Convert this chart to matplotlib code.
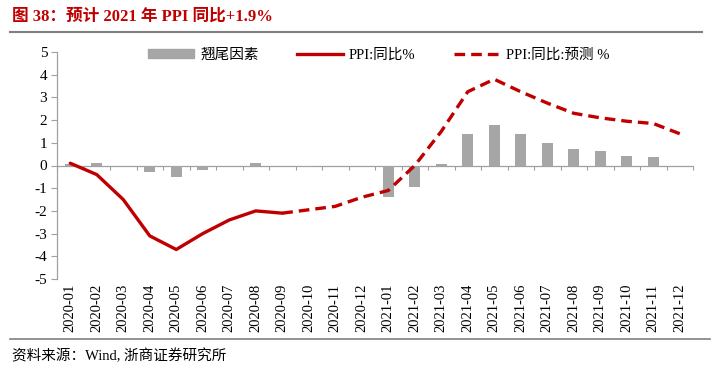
import matplotlib
matplotlib.use("Agg")
import matplotlib.pyplot as plt
import numpy as np
from matplotlib.lines import Line2D

plt.rcParams['font.family'] = ['Liberation Serif', 'Noto Sans CJK SC', 'DejaVu Sans']

months = ["2020-01", "2020-02", "2020-03", "2020-04", "2020-05", "2020-06",
          "2020-07", "2020-08", "2020-09", "2020-10", "2020-11", "2020-12",
          "2021-01", "2021-02", "2021-03", "2021-04", "2021-05", "2021-06",
          "2021-07", "2021-08", "2021-09", "2021-10", "2021-11", "2021-12"]
carryover = [0.05, 0.1, 0.0, -0.3, -0.5, -0.2, 0.0, 0.1, 0.0, -0.05, 0.0, 0.0,
             -1.4, -0.93, 0.05, 1.37, 1.79, 1.37, 0.98, 0.71, 0.64, 0.43, 0.38, 0.0]
ppi_actual = [0.1, -0.4, -1.5, -3.1, -3.7, -3.0, -2.4, -2.0, -2.1]
ppi_forecast = [-2.1, -1.95, -1.8, -1.4, -1.1, 0.0, 1.5, 3.25, 3.8, 3.25, 2.75,
                2.3, 2.1, 1.95, 1.85, 1.4]

red = '#C00000'
grey_bar = '#A6A6A6'
axis_grey = '#A0A0A0'

fig = plt.figure(figsize=(7.24, 3.9), dpi=100)
ax = fig.add_axes([57/724, 1-279/390, (693-57)/724, (279-52)/390])

x = np.arange(len(months))
ax.bar(x, carryover, width=0.4, color=grey_bar, zorder=2, label='翘尾因素')
xa = np.arange(len(ppi_actual))
ax.plot(xa, ppi_actual, color=red, lw=2.4, solid_capstyle='round', zorder=3, label='PPI:同比%')
xf = np.arange(len(ppi_actual) - 1, len(ppi_actual) - 1 + len(ppi_forecast))
ax.plot(xf, ppi_forecast, color=red, lw=2.4, dashes=(3.2, 1.8), zorder=3, label='PPI:同比:预测 %')

ax.set_xlim(-0.5, len(months) - 0.5)
ax.set_ylim(-5, 5)
ax.set_yticks(range(-5, 6))
ax.set_yticklabels([str(v) for v in range(-5, 6)], fontsize=11)
ax.tick_params(axis='y', length=4, color=axis_grey, width=0.8, pad=3)

for s in ['top', 'right']:
    ax.spines[s].set_visible(False)
ax.spines['left'].set_color(axis_grey)
ax.spines['left'].set_linewidth(0.9)
ax.spines['bottom'].set_position(('data', 0))
ax.spines['bottom'].set_color(axis_grey)
ax.spines['bottom'].set_linewidth(0.9)
ax.spines['bottom'].set_zorder(1)
ax.set_xticks(np.arange(-0.5, len(months), 1.0))
ax.set_xticklabels([])
ax.tick_params(axis='x', length=3, direction='out', color=axis_grey, width=0.8)

for i, m in enumerate(months):
    ax.text(i, -0.02, m, transform=ax.get_xaxis_transform(), rotation=90,
            ha='center', va='top', fontsize=10.5)

handles = [
    plt.Rectangle((0, 0), 1, 1, color=grey_bar),
    Line2D([], [], color=red, lw=2.4),
    Line2D([], [], color=red, lw=2.4, dashes=(3.2, 1.8)),
]
labels = ['翘尾因素', 'PPI:同比%', 'PPI:同比:预测 %']
fig.legend(handles, labels, loc='center', bbox_to_anchor=(0.523, 1-55/390), ncol=3,
           frameon=False, fontsize=10.5, handlelength=3.2, handleheight=0.6,
           columnspacing=2.6, handletextpad=0.4)

fig.text(12/724, 1-17/390, '图 38：预计 2021 年 PPI 同比+1.9%', color=red,
         fontsize=12, fontweight='bold', va='center', ha='left')
fig.add_artist(Line2D([10/724, 702/724], [1-32/390, 1-32/390], color='#808080', lw=1.5))
fig.add_artist(Line2D([10/724, 710/724], [1-339/390, 1-339/390], color='#808080', lw=1.2))
fig.text(12/724, 1-356/390, '资料来源：Wind, 浙商证券研究所', fontsize=10.5, va='center', ha='left')

fig.savefig('out.png', dpi=100)
